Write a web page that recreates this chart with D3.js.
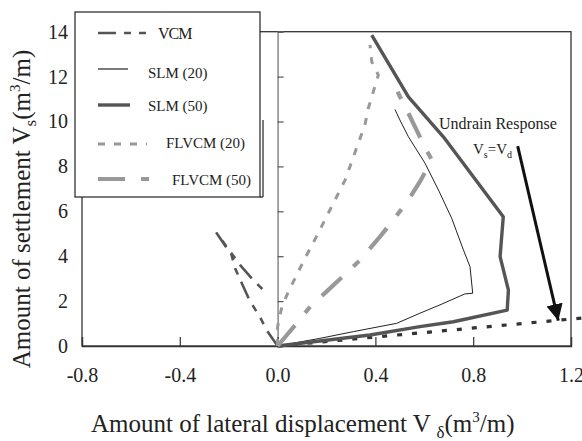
<!DOCTYPE html>
<html>
<head>
<meta charset="utf-8">
<script src="https://cdn.jsdelivr.net/npm/d3@7.9.0/dist/d3.min.js"></script>
<style>
  html, body { margin: 0; padding: 0; background: #fff; }
  svg { display: block; }
  svg text { font-family: "Liberation Serif", "Times New Roman", serif; }
</style>
</head>
<body>
<svg id="chart" width="582" height="441"></svg>
<script>
// series: [lateral displacement, settlement]
const vcm = [[0, 0], [-0.045, 0.71], [-0.072, 1.29], [-0.113, 2.0], [-0.14, 2.64], [-0.174, 3.46],
  [-0.188, 4.05], [-0.21, 4.4], [-0.249, 5.02], [-0.2, 4.3], [-0.154, 3.61], [-0.1, 2.94], [-0.054, 2.45]];
const slm20 = [[0.48, 10.54], [0.5, 10.07], [0.535, 9.32], [0.603, 8.14], [0.66, 6.9], [0.712, 5.69],
  [0.76, 4.28], [0.787, 3.53], [0.798, 2.35], [0.766, 2.32], [0.664, 1.83], [0.582, 1.46],
  [0.487, 1.01], [0.31, 0.64], [0.173, 0.34], [0, 0]];
const slm50 = [[0.385, 13.85], [0.535, 11.1], [0.678, 9.32], [0.923, 5.76], [0.91, 3.98], [0.944, 2.49],
  [0.939, 1.6], [0.719, 1.08], [0.582, 0.86], [0.378, 0.49], [0, 0]];
const flvcm20 = [[0, 0], [0, 0.86], [0.017, 1.72], [0.044, 2.42], [0.078, 3.16], [0.112, 3.91],
  [0.146, 4.6], [0.214, 6.06], [0.276, 7.39], [0.33, 9.03], [0.357, 9.84], [0.371, 10.59],
  [0.412, 12.07], [0.385, 12.66], [0.378, 13.41]];
const flvcm50 = [[0, 0], [0.078, 1.01], [0.133, 1.75], [0.2, 2.42], [0.338, 3.83], [0.419, 4.87],
  [0.473, 5.61], [0.535, 6.5], [0.582, 7.32], [0.616, 8.0], [0.63, 8.3], [0.6, 8.9], [0.575, 9.47],
  [0.535, 10.37], [0.487, 11.4]];
const undrain = [[0, 0], [1.25, 1.25]];          // Vs = Vd
const arrowPts = [[0.982, 8.9], [1.148, 1.13]];

const xTicks = [-0.8, -0.4, 0.0, 0.4, 0.8, 1.2];
const xTickLabels = ['-0.8', '-0.4', '0.0', '0.4', '0.8', '1.2'];
const yTicks = [0, 2, 4, 6, 8, 10, 12, 14];
const legendNames = ['VCM', 'SLM (20)', 'SLM (50)', 'FLVCM (20)', 'FLVCM (50)'];

const serif = '"Liberation Serif", "Times New Roman", serif';
const svg = d3.select('#chart');

const x = d3.scaleLinear().domain([-0.8, 1.2]).range([82, 571]);
const y = d3.scaleLinear().domain([0, 14]).range([346, 31.7]);

// plot frame
svg.append('rect')
  .attr('x', x(-0.8)).attr('y', y(14))
  .attr('width', x(1.2) - x(-0.8)).attr('height', y(0) - y(14))
  .attr('fill', 'none').attr('stroke', '#333').attr('stroke-width', 1.3);

// vertical axis through x = 0, ticks inside
svg.append('g')
  .attr('transform', `translate(${x(0)},0)`)
  .call(d3.axisRight(y).tickValues(yTicks).tickSize(6).tickFormat(''))
  .call(g => g.select('.domain').attr('stroke', '#888').attr('stroke-width', 1.5))
  .call(g => g.selectAll('.tick line').attr('stroke', '#555').attr('stroke-width', 1.2));

// y labels at the far left
svg.append('g')
  .attr('transform', `translate(70,0)`)
  .call(d3.axisLeft(y).tickValues(yTicks).tickSize(0).tickPadding(2))
  .call(g => g.select('.domain').remove())
  .call(g => g.selectAll('text').attr('font-size', 20).style('font-family', serif).attr('fill', '#222'));

// x axis ticks (pointing up) and labels
svg.append('g')
  .attr('transform', `translate(0,${y(0)})`)
  .call(d3.axisTop(x).tickValues(xTicks).tickSize(9).tickFormat(''))
  .call(g => g.select('.domain').attr('stroke', '#333').attr('stroke-width', 1.3))
  .call(g => g.selectAll('.tick line').attr('stroke', '#333').attr('stroke-width', 1.2));

svg.append('g')
  .attr('transform', `translate(0,${y(0)})`)
  .call(d3.axisBottom(x).tickValues(xTicks).tickSize(0).tickPadding(22)
    .tickFormat((d, i) => xTickLabels[i]))
  .call(g => g.select('.domain').remove())
  .call(g => g.selectAll('text').attr('font-size', 20).style('font-family', serif).attr('fill', '#222'));

const line = d3.line().x(d => x(d[0])).y(d => y(d[1]));

const styles = [
  { data: vcm, color: '#555', width: 2.6, dash: '18,8,7,8,7,8' },
  { data: slm20, color: '#222', width: 1, dash: null },
  { data: slm50, color: '#555', width: 3.4, dash: null },
  { data: flvcm20, color: '#999', width: 3, dash: '7,9' },
  { data: flvcm50, color: '#999', width: 4.2, dash: '27,16,8,16' }
];

svg.append('path')
  .attr('d', line(undrain))
  .attr('fill', 'none').attr('stroke', '#333').attr('stroke-width', 3.2)
  .attr('stroke-dasharray', '5,10');

styles.forEach(s => {
  svg.append('path')
    .attr('d', line(s.data))
    .attr('fill', 'none')
    .attr('stroke', s.color)
    .attr('stroke-width', s.width)
    .attr('stroke-linejoin', 'round')
    .attr('stroke-dasharray', s.dash);
});

// arrow
svg.append('defs').append('marker')
  .attr('id', 'head').attr('viewBox', '0 0 10 10')
  .attr('refX', 10).attr('refY', 5)
  .attr('markerWidth', 5.5).attr('markerHeight', 5.5)
  .attr('markerUnits', 'strokeWidth')
  .attr('orient', 'auto')
  .append('path').attr('d', 'M0,0 L10,5 L0,10 z').attr('fill', '#111');

svg.append('path')
  .attr('d', line(arrowPts))
  .attr('stroke', '#111').attr('stroke-width', 3)
  .attr('marker-end', 'url(#head)');

const note = svg.append('g').attr('font-size', 16).attr('fill', '#222');
note.append('text').attr('x', 439).attr('y', 129).text('Undrain Response');
const vsvd = note.append('text').attr('x', 473).attr('y', 154).attr('font-size', 15);
vsvd.append('tspan').text('V');
vsvd.append('tspan').attr('font-size', 10).attr('dy', 4).text('s');
vsvd.append('tspan').attr('dy', -4).text('=V');
vsvd.append('tspan').attr('font-size', 10).attr('dy', 4).text('d');

// legend box
const legend = svg.append('g');
legend.append('rect')
  .attr('x', 75).attr('y', 12).attr('width', 185).attr('height', 185)
  .attr('fill', '#fff').attr('stroke', '#222').attr('stroke-width', 1.2);
legend.append('line')
  .attr('x1', 263).attr('x2', 263).attr('y1', 120).attr('y2', 197)
  .attr('stroke', '#222').attr('stroke-width', 1.2);
legend.append('line')
  .attr('x1', 260).attr('x2', 263).attr('y1', 197).attr('y2', 197)
  .attr('stroke', '#222').attr('stroke-width', 1.2);

const rowY = [33, 69, 105, 144, 179];
const sampleEnd = [148, 128, 130, 147, 149];
const textX = [158, 148, 148, 166, 172];
const textY = [39, 78, 111, 148, 185];

legendNames.forEach((name, i) => {
  const s = styles[i];
  legend.append('line')
    .attr('x1', 98).attr('x2', sampleEnd[i])
    .attr('y1', rowY[i]).attr('y2', rowY[i])
    .attr('stroke', s.color).attr('stroke-width', i === 1 ? 1.2 : s.width)
    .attr('stroke-dasharray', s.dash);
  legend.append('text')
    .attr('x', textX[i]).attr('y', textY[i])
    .attr('font-size', i === 0 ? 16 : 15)
    .attr('letter-spacing', i === 0 ? -1 : 0)
    .attr('fill', '#222')
    .text(name);
});

// axis titles
const xt = svg.append('text').attr('x', 91).attr('y', 432).attr('font-size', 25).attr('fill', '#222');
xt.append('tspan').text('Amount of lateral displacement V ');
xt.append('tspan').attr('font-size', 17).attr('dy', 6).text('δ');
xt.append('tspan').attr('dy', -6).text('(m');
xt.append('tspan').attr('font-size', 15).attr('dy', -10).text('3');
xt.append('tspan').attr('dy', 10).text('/m)');

const yt = svg.append('text')
  .attr('transform', 'translate(30,209) rotate(-90)')
  .attr('text-anchor', 'middle').attr('font-size', 25).attr('fill', '#222');
yt.append('tspan').text('Amount of settlement V');
yt.append('tspan').attr('font-size', 17).attr('dy', 6).text('s');
yt.append('tspan').attr('dy', -6).text('(m');
yt.append('tspan').attr('font-size', 15).attr('dy', -10).text('3');
yt.append('tspan').attr('dy', 10).text('/m)');
</script>
</body>
</html>
